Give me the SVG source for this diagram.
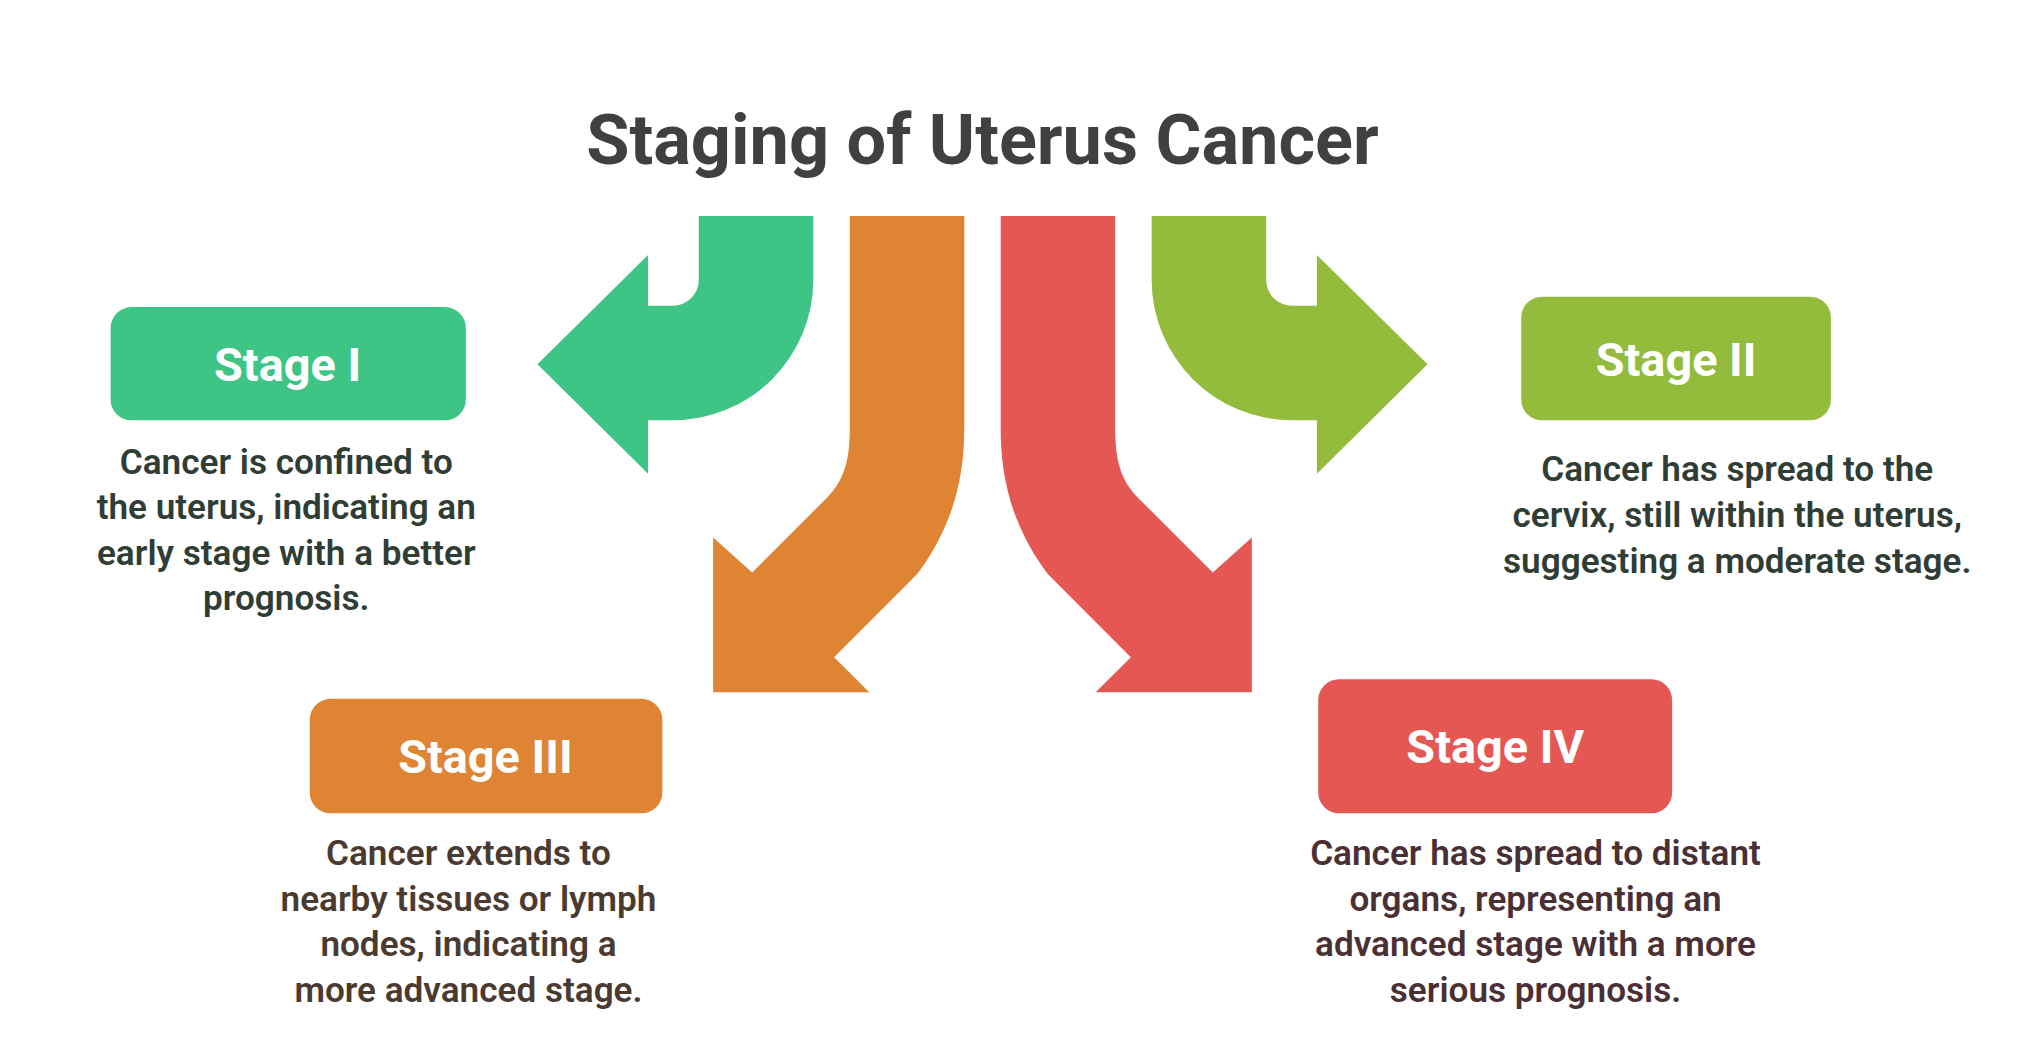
<svg xmlns="http://www.w3.org/2000/svg" width="2030" height="1055" viewBox="0 0 2030 1055">
<style>
.t{font-family:Roboto,"Liberation Sans",sans-serif;font-weight:bold;font-size:54px;fill:#404040;text-anchor:middle}
.l{font-family:Roboto,"Liberation Sans",sans-serif;font-weight:bold;font-size:36px;fill:#fff;text-anchor:middle}
.d{font-family:Roboto,"Liberation Sans",sans-serif;font-weight:600;font-size:27px;text-anchor:middle}
</style>
<rect width="2030" height="1055" fill="#fff"/>
<g transform="scale(1.3013)">
<text class="t" x="755" y="126">Staging of Uterus Cancer</text>
<g id="connectors">
<path fill="#3EC586" d="M537,166 L625,166 L625,215 A108,108 0 0 1 517,323 L498,323 L498,364 L413,280 L498,196 L498,235 L517,235 A20,20 0 0 0 537,215 Z"/>
<path fill="#93BC3C" d="M973,166 L885,166 L885,215 A108,108 0 0 0 993,323 L1012,323 L1012,364 L1097,280 L1012,196 L1012,235 L993,235 A20,20 0 0 1 973,215 Z"/>
<path fill="#DE8433" d="M653,166 L741,166 L741,330 C741,375 728,410 705,441 L641,505 L668,532 L548,532 L548,413 L578,440 L635,383 C648,370 653,355 653,330 Z"/>
<path fill="#E55753" d="M857,166 L769,166 L769,330 C769,375 782,410 805,441 L869,505 L842,532 L962,532 L962,413 L932,440 L875,383 C862,370 857,355 857,330 Z"/>
</g>
<g id="stage1">
<rect x="85" y="236" width="273" height="87" rx="16" fill="#3EC586"/>
<text class="l" x="221" y="293">Stage I</text>
<text class="d" fill="#2F3D35"><tspan x="220" y="364">Cancer is confined to</tspan><tspan x="220" y="399">the uterus, indicating an</tspan><tspan x="220" y="434">early stage with a better</tspan><tspan x="220" y="469">prognosis.</tspan></text>
</g>
<g id="stage2">
<rect x="1169" y="228" width="238" height="95" rx="16" fill="#93BC3C"/>
<text class="l" x="1288" y="289">Stage II</text>
<text class="d" fill="#2F3D35"><tspan x="1335" y="370">Cancer has spread to the</tspan><tspan x="1335" y="405">cervix, still within the uterus,</tspan><tspan x="1335" y="440">suggesting a moderate stage.</tspan></text>
</g>
<g id="stage3">
<rect x="238" y="537" width="271" height="88" rx="16" fill="#DE8433"/>
<text class="l" x="373" y="594">Stage III</text>
<text class="d" fill="#4A3A30"><tspan x="360" y="665">Cancer extends to</tspan><tspan x="360" y="700">nearby tissues or lymph</tspan><tspan x="360" y="735">nodes, indicating a</tspan><tspan x="360" y="770">more advanced stage.</tspan></text>
</g>
<g id="stage4">
<rect x="1013" y="522" width="272" height="103" rx="16" fill="#E55753"/>
<text class="l" x="1149" y="586">Stage IV</text>
<text class="d" fill="#4A3035"><tspan x="1180" y="665">Cancer has spread to distant</tspan><tspan x="1180" y="700">organs, representing an</tspan><tspan x="1180" y="735">advanced stage with a more</tspan><tspan x="1180" y="770">serious prognosis.</tspan></text>
</g>
</g>
</svg>
